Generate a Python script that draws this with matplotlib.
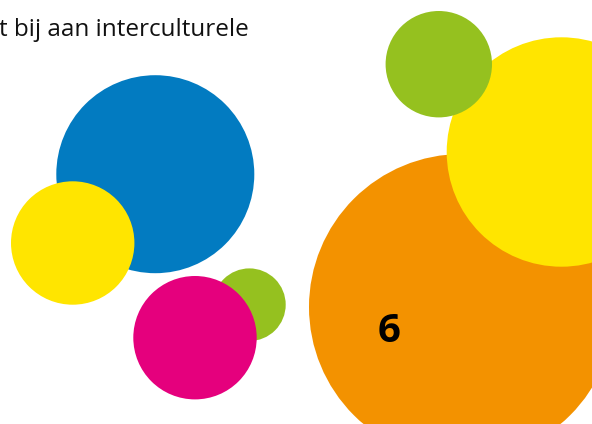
import matplotlib
matplotlib.use("Agg")
import matplotlib.pyplot as plt
from matplotlib.patches import Circle

# circle data (pixel-space coordinates of the reference, y downwards)
names = ["blue", "yellow_left", "green_small", "magenta", "orange", "yellow_right", "green_top"]
centers_x = [155.3, 72.7, 249.4, 195.0, 462.0, 561.4, 438.8]
centers_y = [174.2, 243.0, 304.7, 337.7, 307.0, 152.0, 64.2]
radii = [99.0, 61.7, 36.3, 61.7, 153.0, 114.7, 53.2]
colors = ["#027BC1", "#FFE500", "#95C11F", "#E5007D", "#F39200", "#FFE500", "#95C11F"]

header_text = "t bij aan interculturele"
page_number = "6"

W, H = 592, 424
fig = plt.figure(figsize=(W / 100, H / 100), dpi=100)
ax = fig.add_axes([0, 0, 1, 1])
ax.set_xlim(0, W)
ax.set_ylim(H, 0)
ax.set_aspect("equal")
ax.axis("off")

for cx, cy, r, c in zip(centers_x, centers_y, radii, colors):
    ax.add_patch(Circle((cx, cy), r, facecolor=c, edgecolor="none", antialiased=True))

ax.text(-1, 36, header_text, fontsize=17.5, family=["Open Sans", "DejaVu Sans"],
        color="#111111", ha="left", va="baseline")
ax.text(389.5, 342, page_number, fontsize=29, fontweight="bold",
        family=["Open Sans", "DejaVu Sans"], color="#000000", ha="center", va="baseline")

fig.savefig("out.png", dpi=100, facecolor="white")
